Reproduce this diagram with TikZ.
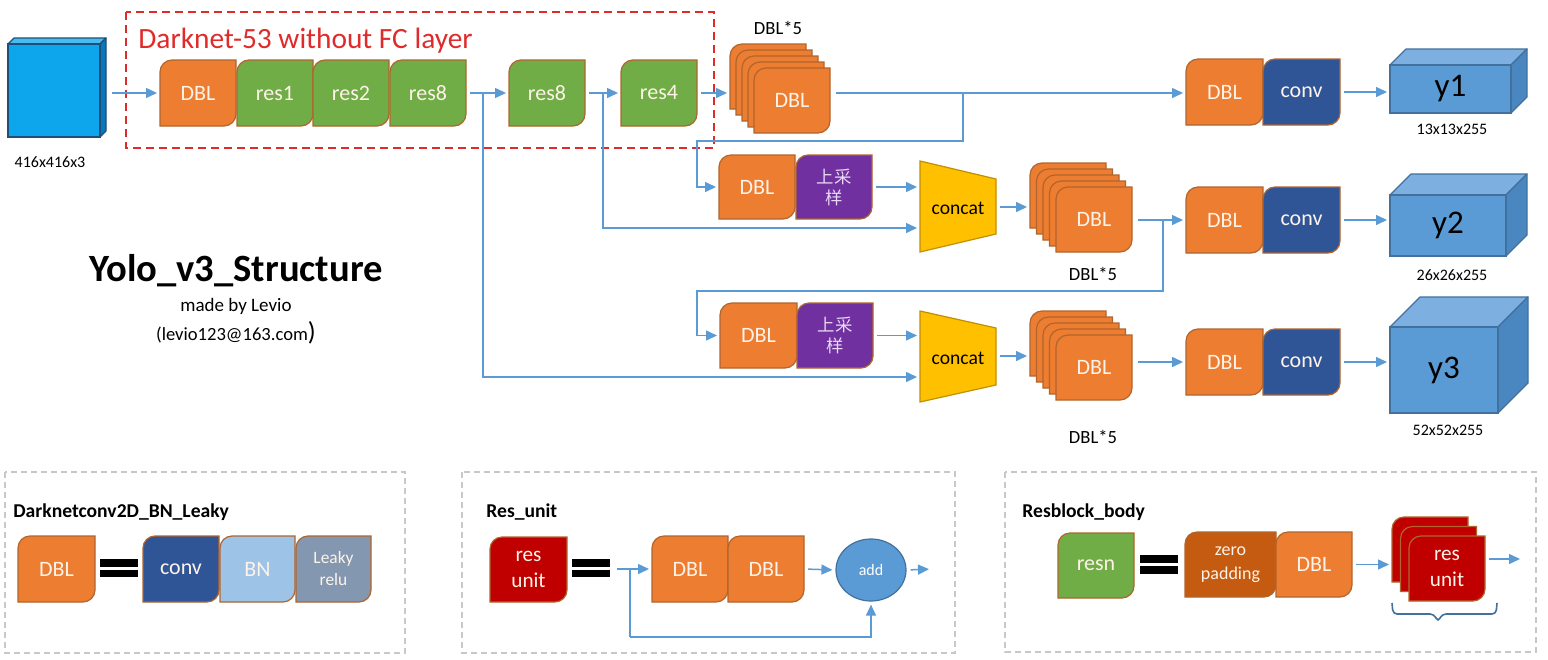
\documentclass[tikz,border=0pt]{standalone}
\usepackage{fontspec}
\setmainfont{Carlito}
\newfontfamily\cjkfont{Noto Sans CJK SC}
\usetikzlibrary{arrows.meta,shapes.geometric}
\definecolor{dblc}{HTML}{ED7D31}
\definecolor{resc}{HTML}{70AD47}
\definecolor{convc}{HTML}{2F5597}
\definecolor{upc}{HTML}{7030A0}
\definecolor{catc}{HTML}{FFC000}
\definecolor{catd}{HTML}{BF9000}
\definecolor{edgec}{HTML}{B0652E}
\definecolor{lnkc}{HTML}{5B9BD5}
\definecolor{ycf}{HTML}{5B9BD5}
\definecolor{yct}{HTML}{7DB0E0}
\definecolor{ycs}{HTML}{4A86BF}
\definecolor{ycd}{HTML}{41719C}
\definecolor{icf}{HTML}{0DA6EC}
\definecolor{ict}{HTML}{45BDF0}
\definecolor{ics}{HTML}{0A78B8}
\definecolor{icd}{HTML}{1F4E79}
\definecolor{redbox}{HTML}{E02B2B}
\definecolor{panelc}{HTML}{C8C8C8}
\definecolor{bnc}{HTML}{9DC3E6}
\definecolor{lkc}{HTML}{8497B0}
\definecolor{ruc}{HTML}{C00000}
\definecolor{zpc}{HTML}{C55A11}
\definecolor{blkw}{HTML}{FDF3E8}
\definecolor{cjkw}{HTML}{E8D8F4}
\def\crad{12}
% name, x1, y1, x2, y2, shape style, node options, text
\newcommand{\blk}[8]{%
  \path[#6] ({#2},{#5}) -- ({#2},{(#3)+\crad}) .. controls ({#2},{(#3)+0.448*\crad}) and ({(#2)+0.448*\crad},{#3}) .. ({(#2)+\crad},{#3}) -- ({#4},{#3}) -- ({#4},{(#5)-\crad}) .. controls ({#4},{(#5)-0.448*\crad}) and ({(#4)-0.448*\crad},{#5}) .. ({(#4)-\crad},{#5}) -- cycle;
  \node[blktext, minimum width={((#4)-(#2))*0.5pt}, minimum height={((#5)-(#3))*0.5pt}, #7] (#1) at ({((#2)+(#4))/2},{((#3)+(#5))/2}) {#8};}
% name, x1, y1, x2, y2, depth, colour prefix, node options, text
\newcommand{\cube}[9]{%
  \filldraw[fill=#7t, draw=#7d, line width=0.6pt, line join=round] ({#2},{#3}) -- ({(#2)+(#6)},{(#3)-(#6)}) -- ({(#4)+(#6)},{(#3)-(#6)}) -- ({#4},{#3}) -- cycle;
  \filldraw[fill=#7s, draw=#7d, line width=0.6pt, line join=round] ({#4},{#3}) -- ({(#4)+(#6)},{(#3)-(#6)}) -- ({(#4)+(#6)},{(#5)-(#6)}) -- ({#4},{#5}) -- cycle;
  \node[draw=#7d, fill=#7f, line width=0.6pt, inner sep=0pt, outer sep=0pt, minimum width={((#4)-(#2))*0.5pt}, minimum height={((#5)-(#3))*0.5pt}, font=\fontsize{16.5}{18}\selectfont, #8] (#1) at ({((#2)+(#4))/2},{((#3)+(#5))/2}) {#9};}
\tikzset{
  blktext/.style={inner sep=0pt, outer sep=0pt, text=blkw, align=center, font=\fontsize{11}{13}\selectfont},
  bk/.style={line width=0.6pt, draw=edgec},
  dbl/.style={bk, fill=dblc},
  res/.style={bk, fill=resc},
  cnv/.style={bk, fill=convc},
  ups/.style={bk, fill=upc},
  bnf/.style={bk, fill=bnc},
  lkf/.style={bk, fill=lkc},
  ruf/.style={bk, fill=ruc},
  zpf/.style={bk, fill=zpc},
  cjk/.style={font=\cjkfont\fontsize{8.7}{10.5}\selectfont, text=cjkw},
  catf/.style={fill=catc, draw=catd, line width=0.6pt},
  lnk/.style={draw=lnkc, line width=0.75pt},
  arr/.style={lnk, -{Triangle[length=5.5pt,width=5pt]}, shorten <=2pt, shorten >=1.5pt},
  arrb/.style={lnk, -{Triangle[length=5.5pt,width=5pt]}, shorten >=1.5pt},
  lbl/.style={font=\fontsize{8}{10}\selectfont, text=black, inner sep=0pt},
  ptitle/.style={font=\bfseries\fontsize{9.8}{12}\selectfont, text=black, inner sep=0pt, anchor=base west},
  panel/.style={draw=panelc, line width=0.9pt, dash pattern=on 3pt off 2pt},
  eqbar/.style={fill=black},
}
\begin{document}
\begin{tikzpicture}[x=0.5pt,y=-0.5pt]
\useasboundingbox (0,0) rectangle (1548,659);
\fill[white] (0,0) rectangle (1548,659);

% ---------- input ----------
\cube{in0}{8}{44}{100}{137}{6}{ic}{}{}
\node[lbl] (inlbl) at (50,162) {416x416x3};

% ---------- backbone ----------
\blk{d0}{160}{60}{236}{126}{dbl}{}{DBL}
\blk{r1}{237}{60}{313}{126}{res}{}{res1}
\blk{r2}{313}{60}{389}{126}{res}{}{res2}
\blk{r3}{390}{60}{466}{126}{res}{}{res8}
\blk{r4}{509}{60}{585}{126}{res}{}{res8}
\blk{r5}{621}{60}{697}{126}{res}{}{res4}
\draw[redbox, line width=1.1pt, dash pattern=on 4pt off 2.5pt] (126,12) rectangle (714,148);
\node[anchor=base west, inner sep=0pt, text=redbox, font=\fontsize{14.7}{16}\selectfont] (dk) at (138,48) {Darknet-53 without FC layer};

% ---------- stack 1 ----------
\foreach \k in {4,3,2,1} {\blk{s1l\k}{754-6*\k}{68-6*\k}{830-6*\k}{133-6*\k}{dbl}{}{}}
\blk{s1}{754}{68}{830}{133}{dbl}{}{DBL}
\node[lbl, font=\fontsize{9.3}{11}\selectfont] (s1lbl) at (778,28) {DBL*5};

% ---------- output 1 ----------
\blk{e1}{1186}{59}{1263}{125}{dbl}{}{DBL}
\blk{e1c}{1263}{59}{1340}{125}{cnv}{}{conv}
\cube{y1}{1390}{65}{1511}{113}{16}{yc}{}{y1}
\node[lbl] (y1lbl) at (1452,129) {13x13x255};

% ---------- row 2 ----------
\blk{u1}{719}{155}{795}{219}{dbl}{}{DBL}
\blk{u1p}{796}{155}{872}{219}{ups}{cjk}{上采\\样}
\filldraw[catf] (920,161) -- (996,179) -- (996,234) -- (920,252) -- cycle;
\node[inner sep=0pt, font=\fontsize{9.8}{11}\selectfont] (c1) at (958,208) {concat};
\foreach \k in {4,3,2,1} {\blk{s2l\k}{1056-6.5*\k}{187-6*\k}{1132-6.5*\k}{252-6*\k}{dbl}{}{}}
\blk{s2}{1056}{187}{1132}{252}{dbl}{}{DBL}
\node[lbl, font=\fontsize{9.3}{11}\selectfont] (s2lbl) at (1093,274) {DBL*5};
\blk{e2}{1186}{187}{1263}{253}{dbl}{}{DBL}
\blk{e2c}{1263}{187}{1340}{253}{cnv}{}{conv}
\cube{y2}{1390}{195}{1506}{256}{21}{yc}{}{y2}
\node[lbl] (y2lbl) at (1452,275) {26x26x255};

% ---------- row 3 ----------
\blk{u2}{720}{303}{797}{368}{dbl}{}{DBL}
\blk{u2p}{797}{303}{873}{368}{ups}{cjk}{上采\\样}
\filldraw[catf] (920,311) -- (996,328) -- (996,385) -- (920,402) -- cycle;
\node[inner sep=0pt, font=\fontsize{9.8}{11}\selectfont] (c2) at (958,358) {concat};
\foreach \k in {4,3,2,1} {\blk{s3l\k}{1056-6.5*\k}{335-6*\k}{1132-6.5*\k}{400-6*\k}{dbl}{}{}}
\blk{s3}{1056}{335}{1132}{400}{dbl}{}{DBL}
\node[lbl, font=\fontsize{9.3}{11}\selectfont] (s3lbl) at (1093,437) {DBL*5};
\blk{e3}{1186}{329}{1263}{395}{dbl}{}{DBL}
\blk{e3c}{1263}{329}{1340}{395}{cnv}{}{conv}
\cube{y3}{1390}{327}{1498}{413}{30}{yc}{}{y3}
\node[lbl] (y3lbl) at (1448,430) {52x52x255};

% ---------- connector coordinates ----------
\coordinate (b4) at (483,93);
\coordinate (b3) at (603,93);
\coordinate (b1) at (963,93);
\coordinate (k1) at (697,141);
\coordinate (b2) at (1163,220);
\coordinate (k2) at (697,291);
\coordinate (c1a) at (920,187);
\coordinate (c1b) at (920,228);
\coordinate (c1o) at (996,207);
\coordinate (c2a) at (920,335.5);
\coordinate (c2b) at (920,377);
\coordinate (c2o) at (996,356);

% ---------- connectors ----------
\draw[arr, shorten <=6pt] (in0.east |- d0.west) -- (d0.west);
\draw[arr] (r3.east) -- (r4.west);
\draw[arr] (r4.east) -- (r5.west);
\draw[arr] (r5.east) -- (s1l4.west |- r5.east);
\draw[arr, shorten <=3pt] (s1.east |- d0.west) -- (e1.west |- d0.west);
\draw[arrb] (b1) |- (k1) |- (u1.west);
\draw[arrb] (b3) |- (c1b);
\draw[arrb] (b4) |- (c2b);
\draw[arr] (u1p.east) -- (c1a);
\draw[arr] (c1o) -- (s2l4.west |- c1o);
\draw[arr, shorten <=3pt] (s2.east |- e2.west) -- (e2.west);
\draw[arrb] (b2) |- (k2) |- (u2.west);
\draw[arr] (u2p.east) -- (c2a);
\draw[arr] (c2o) -- (s3l4.west |- c2o);
\draw[arr, shorten <=3pt] (s3.east |- e3.west) -- (e3.west);
\draw[arr] (e1c.east) -- (y1.west |- e1c.east);
\draw[arr] (e2c.east) -- (y2.west |- e2c.east);
\draw[arr] (e3c.east) -- (y3.west |- e3c.east);

% ---------- title ----------
\node[anchor=base, inner sep=0pt, font=\bfseries\fontsize{19.3}{22}\selectfont] (ttl) at (236,281) {Yolo\_v3\_Structure};
\node[anchor=base, inner sep=0pt, font=\fontsize{9.5}{11}\selectfont] (mby) at (236,311) {made by Levio};
\node[anchor=base, inner sep=0pt, font=\fontsize{9.3}{11}\selectfont] (mail) at (236,340) {(levio123@163.com{\fontsize{13}{13}\selectfont )}};

% ---------- panel 1 ----------
\draw[panel] (5,472) rectangle (405,653);
\node[ptitle] (pt1) at (13,517) {Darknetconv2D\_BN\_Leaky};
\blk{q0}{18}{536}{95}{602}{dbl}{}{DBL}
\fill[eqbar] (100,559) rectangle (138,567);
\fill[eqbar] (100,570) rectangle (138,577);
\blk{q0a}{143}{536}{219}{602}{cnv}{}{conv}
\blk{q0b}{220}{536}{295}{602}{bnf}{}{BN}
\blk{q0c}{296}{536}{371}{602}{lkf}{font=\fontsize{8.7}{11}\selectfont}{Leaky\\relu}

% ---------- panel 2 ----------
\draw[panel] (462,472) rectangle (955,653);
\node[ptitle] (pt2) at (486,517) {Res\_unit};
\blk{ru0}{490}{537}{567}{602}{ruf}{font=\fontsize{10.6}{13}\selectfont}{res\\unit}
\fill[eqbar] (572,559) rectangle (610,567);
\fill[eqbar] (572,570) rectangle (610,577);
\blk{q1}{652}{536}{728}{602}{dbl}{}{DBL}
\blk{q2}{728}{536}{804}{602}{dbl}{}{DBL}
\node[ellipse, fill=lnkc, draw=ycd, line width=0.6pt, minimum width=35pt, minimum height=31pt, inner sep=0pt, text=white, font=\fontsize{8}{10}\selectfont] (add) at (871,570) {add};
\coordinate (p2a) at (617,569);
\coordinate (p2b) at (630,569);
\coordinate (p2c) at (630,637);
\coordinate (p2d) at (932,569);
\draw[arrb] (p2a) -- (q1.west);
\draw[lnk] (p2b) -- (p2c);
\draw[arrb] (p2c) -| (add.south);
\draw[arr] (q2.east) -- (add.west);
\draw[arr] (add.east) -- (p2d);

% ---------- panel 3 ----------
\draw[panel] (1005,472) rectangle (1536,652);
\node[ptitle] (pt3) at (1022,517) {Resblock\_body};
\blk{rn}{1058}{533}{1134}{598}{res}{}{resn}
\fill[eqbar] (1140,555) rectangle (1178,563);
\fill[eqbar] (1140,566) rectangle (1178,574);
\blk{z1}{1185}{532}{1276}{597}{zpf}{font=\fontsize{9}{12}\selectfont}{zero\\padding}
\blk{z2}{1276}{532}{1352}{597}{dbl}{}{DBL}
\blk{rs2}{1392}{517}{1468}{582}{ruf}{}{}
\blk{rs1}{1400.5}{526.5}{1476.5}{591.5}{ruf}{}{}
\blk{ru}{1409}{536}{1485}{601}{ruf}{font=\fontsize{10.6}{13}\selectfont}{res\\unit}
\coordinate (p3o) at (1523,559);
\draw[arr] (z2.east) -- (rs2.west |- z2.east);
\draw[arr] (ru.east |- p3o) -- (p3o);
\draw[draw=ycd, line width=0.8pt, rounded corners=2pt] (1392,603) -- (1393,614) -- (1434,614) -- (1438,622) -- (1442,614) -- (1496,614) -- (1497,603);
\end{tikzpicture}
\end{document}
